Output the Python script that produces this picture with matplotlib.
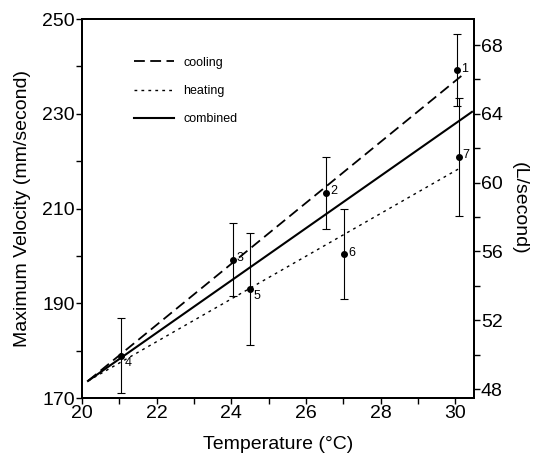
import matplotlib
matplotlib.use('Agg')
from matplotlib import pyplot as plt

plt.rcParams['font.family'] = ['Liberation Sans', 'DejaVu Sans']

# measured points (temperature, max velocity, error)
point_ids = ['1', '2', '3', '4', '5', '6', '7']
temps = [30.05, 26.55, 24.05, 21.05, 24.5, 27.03, 30.1]
velocity = [239.2, 213.3, 199.2, 178.9, 193.0, 200.4, 220.9]
vel_err = [7.6, 7.6, 7.7, 7.9, 11.8, 9.5, 12.5]

# regression lines (end points)
cool_x = [20.16, 30.2]
cool_y = [173.6, 238.2]
heat_x = [20.16, 30.1]
heat_y = [173.6, 218.4]
comb_x = [20.16, 30.45]
comb_y = [173.6, 230.4]

# tick values
x_major = [20, 22, 24, 26, 28, 30]
x_minor = [21, 23, 25, 27, 29]
y_major = [170, 190, 210, 230, 250]
y_minor = [180, 200, 220, 240]
r_major = [48, 52, 56, 60, 64, 68]
r_minor = [50, 54, 58, 62, 66]

fig = plt.figure(figsize=(5.36, 4.53), dpi=100)
ax = fig.add_axes([0.153, 0.1214, 0.731, 0.8366])

ax.plot(cool_x, cool_y, color='black', lw=1.3, ls=(0, (6, 3)), label='cooling')
ax.plot(heat_x, heat_y, color='black', lw=1.0, ls=(0, (2, 3)), label='heating')
ax.plot(comb_x, comb_y, color='black', lw=1.5, ls='-', label='combined')

ax.errorbar(temps, velocity, yerr=vel_err, fmt='o', color='black', ms=4,
            elinewidth=0.8, capsize=3, capthick=0.8)
for t, v, lab in zip(temps, velocity, point_ids):
    dy = -1.5 if lab in ('4', '5') else 0.3
    ax.text(t + 0.1, v + dy, lab, fontsize=9, va='center', ha='left')

ax.set_xlim(20, 30.5)
ax.set_ylim(170, 250)
ax.set_xticks(x_major)
ax.set_xticks(x_minor, minor=True)
ax.set_yticks(y_major)
ax.set_yticks(y_minor, minor=True)
ax.tick_params(which='both', direction='out', length=4, width=1,
               labelsize=14, pad=1)
ax.set_xlabel('Temperature (°C)', fontsize=14, labelpad=10)
ax.set_ylabel('Maximum Velocity (mm/second)', fontsize=14, labelpad=8)
for sp in ax.spines.values():
    sp.set_linewidth(1.4)

ax2 = ax.twinx()
ax2.set_ylim(47.48, 69.51)
ax2.set_yticks(r_major)
ax2.set_yticks(r_minor, minor=True)
ax2.tick_params(which='both', direction='out', length=4, width=1,
                labelsize=14, pad=1)
ax2.set_ylabel('(L/second)', fontsize=14, rotation=-90, labelpad=18)
for sp in ax2.spines.values():
    sp.set_linewidth(1.4)

ax.legend(loc='upper left', bbox_to_anchor=(0.105, 0.93), frameon=False,
          fontsize=9, handlelength=3.2, handletextpad=0.7, labelspacing=1.3)

fig.savefig('out.png', dpi=100)
